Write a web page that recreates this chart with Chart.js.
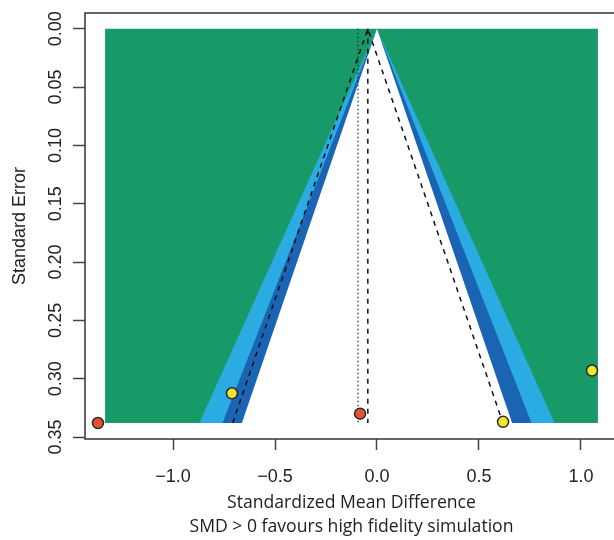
<!DOCTYPE html>
<html>
<head>
<meta charset="utf-8">
<script src="https://cdn.jsdelivr.net/npm/chart.js@4.4.0/dist/chart.umd.min.js"></script>
<style>
  html, body { margin: 0; padding: 0; background: #fff; overflow: hidden; }
  #wrap { width: 614px; height: 540px; overflow: hidden; }
</style>
</head>
<body>
<div id="wrap"><canvas id="funnel" width="640" height="540"></canvas></div>
<script>
// Datos de los estudios (SMD, error estándar)
const redSmd = [-1.368, -0.083];
const redSe = [0.338, 0.330];
const yellowSmd = [-0.711, 0.618, 1.054];
const yellowSe = [0.3125, 0.337, 0.293];

// Contornos (valores z, de fuera hacia dentro) y región sombreada
const contourZ = [2.576, 2.241, 1.96];
const seMax = 0.338;
const shadeMin = -1.333;
const shadeMax = 1.083;

// Estimaciones combinadas
const pooledDashed = -0.045;
const pooledDotted = -0.093;
const ciZ = 1.96;

// Ticks
const xTicks = [-1, -0.5, 0, 0.5, 1];
const yTicks = [0, 0.05, 0.10, 0.15, 0.20, 0.25, 0.30, 0.35];

const GREEN = "#189a68";
const LIGHT_BLUE = "#2aabe2";
const DARK_BLUE = "#1b63b3";
const contourColors = [LIGHT_BLUE, DARK_BLUE, "#ffffff"];

function toPoints(xs, ys) {
    return xs.map((x, i) => ({ x: x, y: ys[i] }));
}

const datasets = [];

// Rectángulo verde
datasets.push({
    data: [
        { x: shadeMin, y: 0 }, { x: shadeMax, y: 0 },
        { x: shadeMax, y: seMax }, { x: shadeMin, y: seMax }
    ],
    showLine: true, fill: "shape", backgroundColor: GREEN,
    borderColor: "transparent", borderWidth: 0, pointRadius: 0, order: 10
});

// Triángulos de contorno
contourZ.forEach((z, i) => {
    datasets.push({
        data: [
            { x: -z * seMax, y: seMax }, { x: 0, y: 0 }, { x: z * seMax, y: seMax }
        ],
        showLine: true, fill: "shape", backgroundColor: contourColors[i],
        borderColor: "transparent", borderWidth: 0, pointRadius: 0, order: 9 - i
    });
});

// Líneas del embudo (discontinuas)
datasets.push({
    data: [
        { x: pooledDashed - ciZ * seMax, y: seMax },
        { x: pooledDashed, y: 0 },
        { x: pooledDashed + ciZ * seMax, y: seMax }
    ],
    showLine: true, fill: false, borderColor: "#111", borderWidth: 1.5,
    borderDash: [5, 5], pointRadius: 0, order: 3
});
datasets.push({
    data: [{ x: pooledDashed, y: 0 }, { x: pooledDashed, y: seMax }],
    showLine: true, fill: false, borderColor: "#111", borderWidth: 1.5,
    borderDash: [5, 5], pointRadius: 0, order: 3
});
datasets.push({
    data: [{ x: pooledDotted, y: 0 }, { x: pooledDotted, y: seMax }],
    showLine: true, fill: false, borderColor: "#222", borderWidth: 1.2,
    borderDash: [1.5, 2.5], pointRadius: 0, order: 3
});

// Estudios
datasets.push({
    data: toPoints(redSmd, redSe), showLine: false,
    pointRadius: 5.5, pointBackgroundColor: "#e4532a",
    pointBorderColor: "#2a2a2a", pointBorderWidth: 1.5, order: 1
});
datasets.push({
    data: toPoints(yellowSmd, yellowSe), showLine: false,
    pointRadius: 5.5, pointBackgroundColor: "#f4e32f",
    pointBorderColor: "#2a2a2a", pointBorderWidth: 1.5, order: 1
});

// Marco alrededor del área del gráfico
const framePlugin = {
    id: "frame",
    afterDatasetsDraw(chart) {
        const a = chart.chartArea;
        const ctx = chart.ctx;
        ctx.save();
        ctx.strokeStyle = "#333";
        ctx.lineWidth = 1.5;
        ctx.strokeRect(a.left, a.top, a.right - a.left, a.bottom - a.top);
        ctx.restore();
    }
};

const tickFont = { family: "'Liberation Sans', Arial, sans-serif", size: 18 };

new Chart(document.getElementById("funnel"), {
    type: "scatter",
    data: { datasets },
    plugins: [framePlugin],
    options: {
        responsive: false,
        animation: false,
        devicePixelRatio: 1,
        layout: { padding: { left: 0, top: 13, right: 22, bottom: 0 } },
        plugins: { legend: { display: false }, tooltip: { enabled: false } },
        scales: {
            x: {
                type: "linear", min: -1.4315, max: 1.1815,
                afterBuildTicks: (scale) => { scale.ticks = xTicks.map(v => ({ value: v })); },
                afterFit: (scale) => { scale.height = 101; },
                border: { display: false },
                grid: { drawOnChartArea: false, drawTicks: true, tickLength: 11, tickColor: "#444", tickWidth: 1.5 },
                ticks: {
                    font: tickFont, color: "#222", padding: 16, maxRotation: 0,
                    callback: (v) => v.toFixed(1).replace("-", "\u2212")
                },
                title: {
                    display: true,
                    text: ["Standardized Mean Difference", "SMD > 0 favours high fidelity simulation"],
                    font: { family: "'Open Sans', sans-serif", size: 17.6, lineHeight: "24px" },
                    color: "#222", padding: { top: 0, bottom: 1 }
                }
            },
            y: {
                type: "linear", reverse: true, min: -0.0135, max: 0.3517,
                afterBuildTicks: (scale) => { scale.ticks = yTicks.map(v => ({ value: v })); },
                afterFit: (scale) => { scale.width = 85; },
                border: { display: false },
                grid: { drawOnChartArea: false, drawTicks: true, tickLength: 12, tickColor: "#444", tickWidth: 1.5 },
                ticks: {
                    font: tickFont, color: "#222", padding: -1,
                    minRotation: 90, maxRotation: 90, crossAlign: "center",
                    callback: (v) => v.toFixed(2)
                },
                title: {
                    display: true, text: "Standard Error",
                    font: { family: "'Liberation Sans', Arial, sans-serif", size: 18, lineHeight: 1.2 },
                    color: "#222", padding: { top: 9, bottom: 0 }
                }
            }
        }
    }
});
</script>
</body>
</html>
